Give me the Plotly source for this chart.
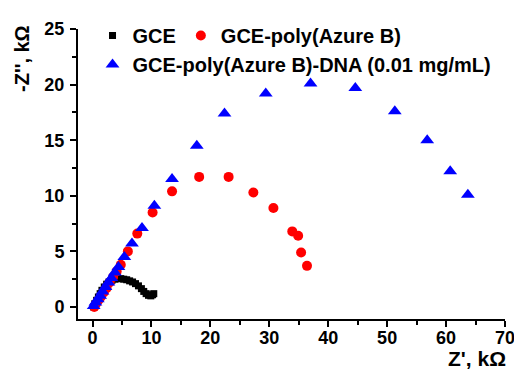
import plotly.graph_objects as go

gce_x = [0.2, 0.4, 0.7, 1.0, 1.3, 1.6, 2.0, 2.4, 2.8, 3.3, 3.8, 4.3, 4.8, 5.3, 5.8, 6.3, 6.8, 7.3, 7.8, 8.3, 8.7, 9.1, 9.5, 9.9, 10.2, 10.4]
gce_y = [0.0, 0.3, 0.6, 0.9, 1.2, 1.5, 1.8, 2.05, 2.25, 2.4, 2.5, 2.55, 2.55, 2.5, 2.45, 2.35, 2.25, 2.1, 1.9, 1.65, 1.4, 1.2, 1.05, 1.0, 1.1, 1.2]

red_x = [0.3, 0.6, 1.0, 1.4, 1.9, 2.4, 2.9, 3.5, 4.1, 4.8, 6.0, 7.6, 10.2, 13.5, 18.1, 23.1, 27.3, 30.7, 33.9, 34.9, 35.4, 36.4]
red_y = [0.0, 0.3, 0.6, 0.9, 1.3, 1.7, 2.2, 2.7, 3.2, 3.8, 5.0, 6.6, 8.5, 10.4, 11.7, 11.7, 10.3, 8.9, 6.8, 6.4, 4.9, 3.7]

blue_x = [0.2, 0.5, 0.9, 1.3, 1.7, 2.2, 2.7, 3.2, 3.8, 4.4, 5.4, 6.7, 8.4, 10.5, 13.5, 17.7, 22.4, 29.4, 37.0, 44.6, 51.3, 56.8, 60.7, 63.7]
blue_y = [0.1, 0.4, 0.7, 1.0, 1.4, 1.8, 2.2, 2.6, 3.1, 3.6, 4.5, 5.7, 7.1, 9.1, 11.5, 14.5, 17.4, 19.2, 20.1, 19.7, 17.6, 15.0, 12.2, 10.1]

names = ["GCE", "GCE-poly(Azure B)", "GCE-poly(Azure B)-DNA (0.01 mg/mL)"]
x_ticks = [0, 10, 20, 30, 40, 50, 60, 70]
y_ticks = [0, 5, 10, 15, 20, 25]

FONT = "Liberation Sans"

fig = go.Figure()
fig.add_trace(go.Scatter(x=gce_x, y=gce_y, mode="markers", name=names[0],
                         marker=dict(symbol="square", size=7, color="black"),
                         legend="legend"))
fig.add_trace(go.Scatter(x=red_x, y=red_y, mode="markers", name=names[1],
                         marker=dict(symbol="circle", size=10, color="#ff0000"),
                         legend="legend"))
fig.add_trace(go.Scatter(x=blue_x, y=blue_y, mode="markers", name=names[2],
                         marker=dict(symbol="triangle-up", size=12, color="#0000ff"),
                         legend="legend2"))

axis_common = dict(
    showline=True, linecolor="black", linewidth=2,
    ticks="outside", ticklen=6, tickwidth=2, tickcolor="black",
    showgrid=False, zeroline=False, mirror=False,
    ticklabeloverflow="allow",
    tickfont=dict(family=FONT, size=18, color="black", weight=700),
)

fig.update_xaxes(range=[-2.46, 70], tickvals=x_ticks, ticklabelstandoff=-5,
                 minor=dict(ticks="outside", ticklen=4, tickwidth=2, tickcolor="black", dtick=5, tick0=0),
                 **axis_common)
fig.update_yaxes(range=[-1.08, 25], tickvals=y_ticks, ticklabelstandoff=2,
                 minor=dict(ticks="outside", ticklen=4, tickwidth=2, tickcolor="black", dtick=2.5, tick0=0),
                 **axis_common)

legend_font = dict(family=FONT, size=20, color="black", weight=700)
fig.update_layout(
    width=514, height=372,
    margin=dict(l=78, r=9, t=29, b=53, autoexpand=False),
    paper_bgcolor="white", plot_bgcolor="white",
    showlegend=True,
    legend=dict(orientation="h", x=0.034, y=1.045, xanchor="left", yanchor="top",
                font=legend_font, bgcolor="rgba(0,0,0,0)", itemwidth=30, tracegroupgap=0),
    legend2=dict(orientation="h", x=0.034, y=0.945, xanchor="left", yanchor="top",
                 font=legend_font, bgcolor="rgba(0,0,0,0)", itemwidth=30),
    annotations=[
        dict(text="-Z'', kΩ", x=22, y=59, xref="paper", yref="paper", showarrow=False,
             textangle=-90, font=dict(family=FONT, size=20, color="black", weight=700)),
        dict(text="Z', kΩ", x=477, y=358, xref="paper", yref="paper", showarrow=False,
             font=dict(family=FONT, size=21, color="black", weight=700)),
    ],
)
# convert annotation pixel positions to paper coords
pw, ph = 514 - 78 - 9, 372 - 29 - 53
for a in fig.layout.annotations:
    px, py = a.x, a.y
    a.x = (px - 78) / pw
    a.y = (372 - 53 - py) / ph
    a.xanchor = "center"
    a.yanchor = "middle"

fig.write_html("out.html")
